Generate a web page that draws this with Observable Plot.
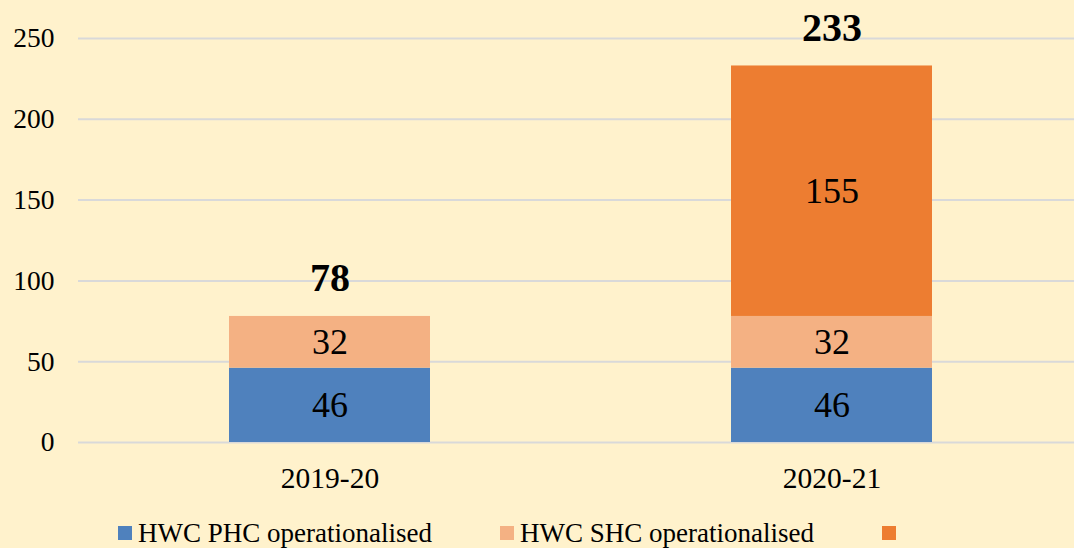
<!DOCTYPE html>
<html>
<head>
<meta charset="utf-8">
<script src="https://cdn.jsdelivr.net/npm/d3@7"></script>
<script src="https://cdn.jsdelivr.net/npm/@observablehq/plot@0.6"></script>
<style>
  html, body { margin: 0; padding: 0; background: #FFF2CC; }
  body { width: 1074px; height: 548px; overflow: hidden; font-family: "Liberation Serif", "Times New Roman", serif; }
  #legend { display: flex; align-items: center; margin-left: 118px; margin-top: 8px; height: 40px; }
  .item { display: flex; align-items: center; font-size: 27px; color: #000; flex: none; white-space: nowrap; }
  .item.w { width: 382px; }
  .sw { width: 14px; height: 14px; margin-right: 6px; flex: none; }
</style>
</head>
<body>
<div id="chart"></div>
<div id="legend"></div>
<script>
const years = ["2019-20", "2020-21"];
const seriesKeys = ["PHC", "SHC", "Other"];
const seriesLabels = ["HWC PHC operationalised", "HWC SHC operationalised", ""];
const seriesColors = ["#4F81BD", "#F4B183", "#ED7D31"];
const phcValues = [46, 46];
const shcValues = [32, 32];
const otherValues = [0, 155];
const totals = [78, 233];
const yTicks = [0, 50, 100, 150, 200, 250];

const valuesBySeries = [phcValues, shcValues, otherValues];
const rows = [];
years.forEach((yr, i) => {
  seriesKeys.forEach((s, j) => {
    rows.push({year: yr, series: s, value: valuesBySeries[j][i]});
  });
});
const totalRows = years.map((yr, i) => ({year: yr, total: totals[i]}));

const font = "'Liberation Serif', 'Times New Roman', serif";

const chart = Plot.plot({
  width: 1074,
  height: 505,
  marginLeft: 78,
  marginRight: 0,
  marginTop: 38,
  marginBottom: 63,
  style: {background: "#FFF2CC", fontFamily: font, color: "#000", overflow: "visible"},
  x: {domain: years, range: [78, 1082], paddingInner: 0.6, paddingOuter: 0.3, label: null},
  y: {domain: [0, 250], label: null},
  color: {domain: seriesKeys, range: seriesColors},
  marks: [
    Plot.gridY(yTicks, {stroke: "#D9D9D9", strokeOpacity: 1, strokeWidth: 2}),
    Plot.axisY(yTicks, {tickSize: 0, tickPadding: 24, fontSize: 27.5, fontFamily: font, label: null}),
    Plot.axisX({tickSize: 0, tickPadding: 25, fontSize: 29.5, fontFamily: font, label: null}),
    Plot.barY(rows, {x: "year", y: "value", fill: "series", order: seriesKeys}),
    Plot.text(rows.filter(d => d.value > 0), Plot.stackY({
      x: "year", y: "value", z: "series", order: seriesKeys,
      text: d => String(d.value), fontSize: 36, fontFamily: font, fill: "#000"
    })),
    Plot.text(totalRows, {x: "year", y: "total", text: d => String(d.total), dy: -38,
      fontSize: 40, fontWeight: "bold", fontFamily: font, fill: "#000"})
  ]
});
document.getElementById("chart").appendChild(chart);

const legend = document.getElementById("legend");
seriesKeys.forEach((k, i) => {
  const item = document.createElement("div");
  item.className = "item" + (seriesLabels[i] ? " w" : "");
  const sw = document.createElement("div");
  sw.className = "sw";
  sw.style.background = seriesColors[i];
  item.appendChild(sw);
  const t = document.createElement("span");
  t.textContent = seriesLabels[i];
  item.appendChild(t);
  legend.appendChild(item);
});
</script>
</body>
</html>
